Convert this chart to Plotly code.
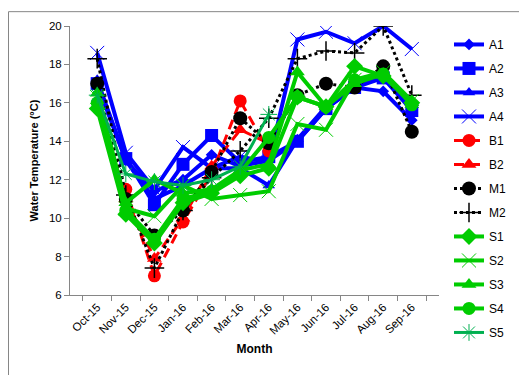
import plotly.graph_objects as go

months = ["Oct-15", "Nov-15", "Dec-15", "Jan-16", "Feb-16", "Mar-16", "Apr-16",
          "May-16", "Jun-16", "Jul-16", "Aug-16", "Sep-16"]

A1 = [17.0, 13.0, 11.4, 12.0, 13.3, 12.7, 13.0, 14.0, 15.7, 16.8, 16.6, 15.1]
A2 = [17.0, 13.1, 10.7, 12.8, 14.3, 12.9, 13.2, 14.0, 15.7, 16.8, 17.3, 15.6]
A3 = [17.2, 13.0, 11.0, 11.7, 12.6, 12.6, 11.7, 14.1, 15.8, 16.9, 17.3, 15.8]
A4 = [18.6, 13.4, 11.5, 13.7, 12.6, 13.2, 12.9, 19.3, 19.7, 19.1, 20.0, 18.8]
B1 = [None, 11.5, 7.0, 9.8, 12.3, 16.1, 13.5, None, None, None, None, None]
B2 = [None, 11.0, 7.9, 10.0, 12.7, 14.6, 13.9, None, None, None, None, None]
M1 = [17.0, 11.0, 9.1, 10.4, 12.4, 15.2, 13.9, 16.4, 17.0, 16.8, 17.9, 14.5]
M2 = [18.3, 11.2, 7.4, 10.4, 12.1, 13.5, 15.2, 18.3, 18.7, 18.6, 20.0, 16.4]
S1 = [15.7, 10.2, 8.7, 10.8, 11.3, 12.2, 12.6, 16.3, 15.8, 17.9, 17.4, 16.0]
S2 = [16.3, 10.5, 10.1, 11.7, 11.0, 11.2, 11.4, 14.9, 14.6, 17.2, 17.6, 16.1]
S3 = [16.5, 10.8, 12.0, 11.3, 11.5, 12.5, 12.8, 17.6, 15.8, 17.0, 17.5, 16.0]
S4 = [16.0, 10.4, 8.9, 11.0, 11.4, 12.4, 14.2, 16.3, 15.8, 17.2, 17.5, 15.9]
S5 = [16.4, 12.3, 11.9, 11.7, 12.0, 12.7, 15.4, None, None, None, None, None]

BLUE = "#0000FF"
RED = "#FF0000"
BLACK = "#000000"
GREEN = "#00CC00"
TEAL = "#00B050"

series = [
    ("A1", A1, BLUE, "solid", 4, "diamond", 9, None),
    ("A2", A2, BLUE, "solid", 4, "square", 13, None),
    ("A3", A3, BLUE, "solid", 4, "triangle-up", 11, None),
    ("A4", A4, BLUE, "solid", 4, "x-thin", 14, 1),
    ("B1", B1, RED, "10px,6px", 3, "circle", 13, None),
    ("B2", B2, RED, "10px,6px", 3, "triangle-up", 13, None),
    ("M1", M1, BLACK, "dot", 3, "circle", 14, None),
    ("M2", M2, BLACK, "dot", 3, "cross-thin", 14, 1.5),
    ("S1", S1, GREEN, "solid", 4, "diamond", 13, None),
    ("S2", S2, GREEN, "solid", 4, "x-thin", 14, 1),
    ("S3", S3, GREEN, "solid", 4, "triangle-up", 13, None),
    ("S4", S4, GREEN, "solid", 4, "circle", 13, None),
    ("S5", S5, TEAL, "solid", 3, "asterisk-open", 14, 1),
]

fig = go.Figure()
for name, vals, col, dash, lw, sym, ms, mlw in series:
    marker = dict(symbol=sym, size=ms, color=col)
    if mlw is not None:
        marker["line"] = dict(width=mlw, color=col)
    else:
        marker["line"] = dict(width=0)
    fig.add_trace(go.Scatter(
        x=months, y=vals, name=name, mode="lines+markers",
        line=dict(color=col, width=lw, dash=dash),
        marker=marker, legendgroup=name,
    ))

L, R, T, B = 62, 431, 15, 287
W, H = 527, 375
pw, ph = R - L, B - T

fig.update_layout(
    width=W, height=H,
    margin=dict(l=L, r=W - R, t=T, b=H - B),
    paper_bgcolor="white", plot_bgcolor="white",
    font=dict(family="Liberation Sans, Arial, sans-serif", size=11, color="black"),
    showlegend=True,
    legend=dict(x=(441 - L) / pw, y=(B - 19) / ph, xanchor="left", yanchor="top",
                tracegroupgap=5, font=dict(size=12), bgcolor="rgba(0,0,0,0)",
                maxheight=360),
    xaxis=dict(
        type="category", showgrid=False, zeroline=False,
        showline=True, linecolor="#868686", linewidth=1,
        ticks="outside", tickson="boundaries", ticklen=5, tickcolor="#868686",
        tickangle=-45, tickfont=dict(size=11.5),
        title=dict(text="<b>Month</b>", font=dict(size=12), standoff=8),
    ),
    yaxis=dict(
        range=[6, 20], dtick=2, showgrid=False, zeroline=False,
        showline=True, linecolor="#868686", linewidth=1,
        ticks="outside", ticklen=5, tickcolor="#868686",
        tickfont=dict(size=11.5),
        title=dict(text="<b>Water Temperature (°C)</b>", font=dict(size=11), standoff=8),
    ),
    shapes=[dict(
        type="rect", xref="paper", yref="paper",
        x0=(0.5 - L) / pw, x1=(W - 0.5 - L) / pw,
        y0=(B - (H - 0.5)) / ph, y1=(B - 0.5) / ph,
        line=dict(color="#868686", width=1), fillcolor="rgba(0,0,0,0)",
    )],
)

fig.write_html("out.html")
